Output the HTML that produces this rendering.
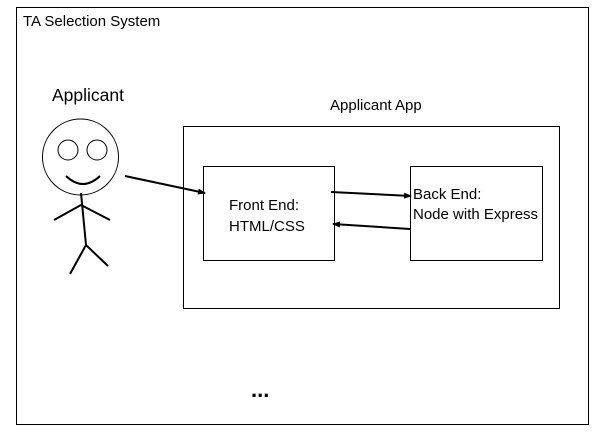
<!DOCTYPE html>
<html><head><meta charset="utf-8"><style>
html,body{margin:0;padding:0;background:#fff;}
svg{display:block;font-family:"Liberation Sans",sans-serif;}
</style></head><body>
<svg width="601" height="442" viewBox="0 0 601 442">
<defs><marker id="a" markerWidth="8" markerHeight="8" refX="7" refY="4" orient="auto" markerUnits="userSpaceOnUse"><path d="M0,1 L8,4 L0,7 z" fill="#000"/></marker></defs>
<rect x="16.5" y="7.5" width="572" height="417" fill="none" stroke="#000"/>
<text x="23" y="26" font-size="15">TA Selection System</text>
<text x="52" y="101" font-size="17.5">Applicant</text>
<text x="330" y="110" font-size="15">Applicant App</text>
<rect x="183.5" y="126.5" width="376" height="182" fill="none" stroke="#000"/>
<rect x="203.5" y="166.5" width="131" height="94" fill="none" stroke="#000"/>
<rect x="410.5" y="166.5" width="132" height="94" fill="none" stroke="#000"/>
<text x="229" y="210" font-size="15">Front End:</text>
<text x="229" y="231" font-size="15">HTML/CSS</text>
<text x="413" y="199" font-size="15">Back End:</text>
<text x="413" y="219" font-size="15">Node with Express</text>
<g fill="none" stroke="#000">
<circle cx="80.5" cy="157" r="38"/>
<circle cx="68" cy="150" r="10"/>
<circle cx="97" cy="150" r="10"/>
<path d="M66,176 Q83,192 100,176" stroke-width="2"/>
<path d="M81,193 L86,245 M54,220 L81,205 L110,220 M70,274 L86,245 L108,266" stroke-width="2"/>
<path d="M125,176 L205,193" stroke-width="2" marker-end="url(#a)"/>
<path d="M331,192 L411,196" stroke-width="2" marker-end="url(#a)"/>
<path d="M410,229 L333,224" stroke-width="2" marker-end="url(#a)"/>
</g>
<text x="251" y="397" font-size="22" font-weight="bold">...</text>
</svg>
</body></html>
